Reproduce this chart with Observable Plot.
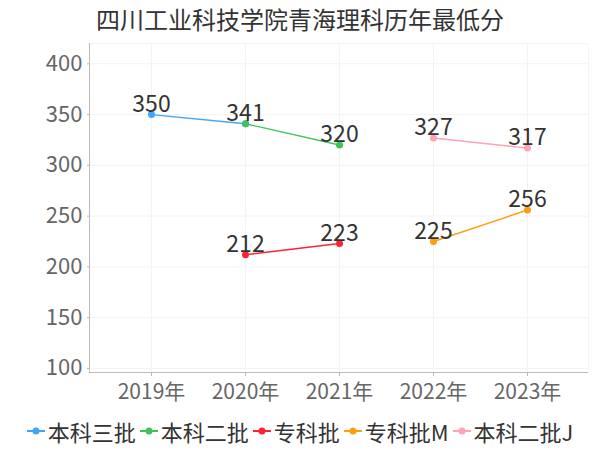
<!DOCTYPE html>
<html>
<head>
<meta charset="utf-8">
<script src="https://cdn.jsdelivr.net/npm/d3@7"></script>
<script src="https://cdn.jsdelivr.net/npm/@observablehq/plot@0.6"></script>
<style>
  body { margin: 0; background: #fff; font-family: "Noto Sans CJK SC", "Noto Sans", sans-serif; }
  #wrap { position: relative; width: 600px; height: 450px; overflow: hidden; }
  #title { position: absolute; top: 1px; left: 0; width: 600px; text-align: center; font-size: 24px; line-height: 36px; color: #333; }
  #chart { position: absolute; top: 0; left: 0; }
  #legend { position: absolute; top: 416px; left: 0; width: 600px; display: flex; justify-content: center; align-items: center; font-size: 22px; color: #333; line-height: 30px; }
  .item { display: flex; align-items: center; margin: 0 2px; }
  .item svg { margin-right: 3px; }
</style>
</head>
<body>
<div id="wrap">
  <div id="chart"></div>
  <div id="title">四川工业科技学院青海理科历年最低分</div>
  <div id="legend"></div>
</div>
<script>
const years = ["2019年", "2020年", "2021年", "2022年", "2023年"];
const seriesNames = ["本科三批", "本科二批", "专科批", "专科批M", "本科二批J"];
const seriesColors = ["#41a5f7", "#3ec35a", "#ff2230", "#ff9d12", "#ffa3b6"];
const s1 = [350, 341, null, null, null];
const s2 = [null, 341, 320, null, null];
const s3 = [null, 212, 223, null, null];
const s4 = [null, null, null, 225, 256];
const s5 = [null, null, null, 327, 317];
const yTicks = [100, 150, 200, 250, 300, 350, 400];

const allSeries = [s1, s2, s3, s4, s5];
const data = [];
allSeries.forEach((vals, i) => {
  vals.forEach((v, j) => {
    if (v != null) data.push({ series: seriesNames[i], year: years[j], value: v });
  });
});
const seen = new Set();
const labels = data.filter(d => {
  const k = d.year + "|" + d.value;
  if (seen.has(k)) return false;
  seen.add(k);
  return true;
});

const chart = Plot.plot({
  width: 600,
  height: 450,
  marginTop: 43,
  marginBottom: 78,
  marginLeft: 89,
  marginRight: 12,
  style: { fontFamily: "'Noto Sans CJK SC', 'Noto Sans', sans-serif", background: "transparent" },
  x: { type: "point", domain: years, padding: 0.65 },
  y: { domain: [96, 420] },
  color: { domain: seriesNames, range: seriesColors },
  marks: [
    Plot.frame({ stroke: "#f4f4f4" }),
    Plot.gridY(yTicks, { stroke: "#f3f3f3", strokeOpacity: 1 }),
    Plot.gridX({ stroke: "#f3f3f3", strokeOpacity: 1 }),
    Plot.frame({ anchor: "left", stroke: "#bbb" }),
    Plot.ruleY([96], { stroke: "#bbb" }),
    Plot.axisY(yTicks, { tickSize: 2, tickPadding: 5, fontSize: 22, fill: "#666", stroke: "#bbb", label: null }),
    Plot.axisX({ tickSize: 4, tickPadding: 8, fontSize: 21, fill: "#666", stroke: "#bbb", label: null }),
    Plot.line(data, { x: "year", y: "value", z: "series", stroke: "series", strokeWidth: 1.4 }),
    Plot.dot(data, { x: "year", y: "value", fill: "series", r: 3.5 }),
    Plot.text(labels, { x: "year", y: "value", text: d => String(d.value), lineAnchor: "bottom", dy: -3, fontSize: 23, fill: "#333" })
  ]
});
document.getElementById("chart").appendChild(chart);

const legend = document.getElementById("legend");
seriesNames.forEach((name, i) => {
  const item = document.createElement("div");
  item.className = "item";
  item.innerHTML = `<svg width="18" height="10"><line x1="0" x2="18" y1="5" y2="5" stroke="${seriesColors[i]}" stroke-width="2"/><circle cx="9" cy="5" r="3.5" fill="${seriesColors[i]}"/></svg><span>${name}</span>`;
  legend.appendChild(item);
});
</script>
</body>
</html>
